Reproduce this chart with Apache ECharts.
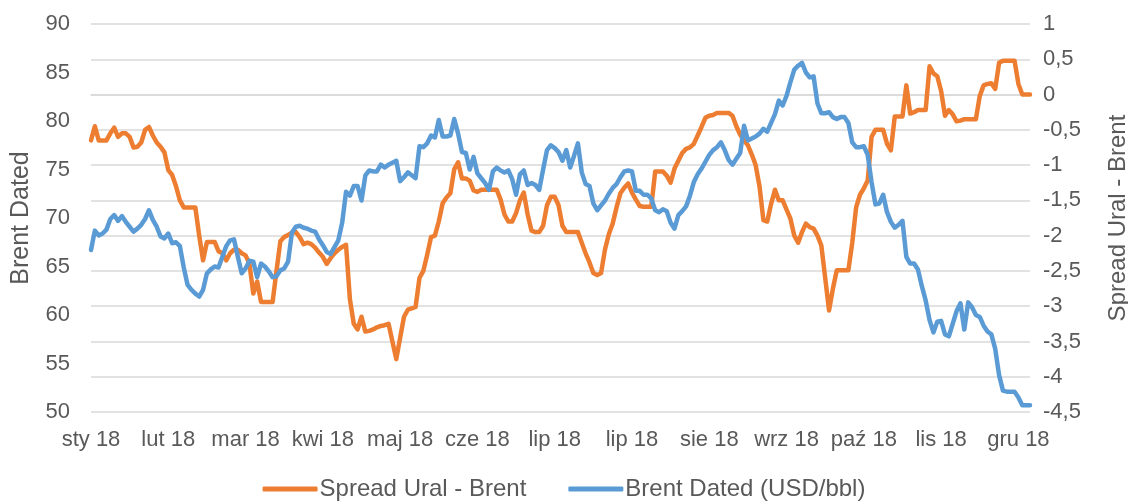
<!DOCTYPE html>
<html>
<head>
<meta charset="utf-8">
<script src="https://cdn.jsdelivr.net/npm/echarts@6/dist/echarts.min.js"></script>
<style>
html,body{margin:0;padding:0;background:#fff;}
#chart{width:1128px;height:502px;}
</style>
</head>
<body>
<div id="chart"></div>
<script>
const tickLabels = ['sty 18','lut 18','mar 18','kwi 18','maj 18','cze 18','lip 18','lip 18','sie 18','wrz 18','paź 18','lis 18','gru 18'];

const spreadUralBrent = [
-0.65,-0.45,-0.65,-0.65,-0.65,-0.55,-0.47,-0.6,-0.55,-0.55,
-0.6,-0.75,-0.74,-0.68,-0.5,-0.46,-0.58,-0.68,-0.74,-0.82,
-1.07,-1.14,-1.3,-1.5,-1.6,-1.6,-1.6,-1.6,-2.0,-2.35,
-2.09,-2.09,-2.09,-2.22,-2.25,-2.35,-2.25,-2.2,-2.2,-2.25,
-2.28,-2.4,-2.82,-2.65,-2.94,-2.94,-2.94,-2.94,-2.5,-2.08,
-2.02,-1.99,-1.96,-1.95,-2.02,-2.12,-2.1,-2.12,-2.17,-2.24,
-2.3,-2.4,-2.32,-2.25,-2.2,-2.16,-2.13,-2.9,-3.25,-3.33,
-3.15,-3.36,-3.35,-3.33,-3.3,-3.28,-3.27,-3.25,-3.5,-3.75,
-3.45,-3.15,-3.05,-3.03,-3.01,-2.6,-2.5,-2.27,-2.02,-2.0,
-1.8,-1.54,-1.46,-1.4,-1.06,-0.96,-1.19,-1.19,-1.22,-1.36,
-1.38,-1.35,-1.35,-1.35,-1.35,-1.35,-1.49,-1.7,-1.8,-1.8,
-1.68,-1.5,-1.39,-1.7,-1.93,-1.95,-1.95,-1.86,-1.57,-1.45,
-1.45,-1.57,-1.86,-1.95,-1.95,-1.95,-1.95,-2.1,-2.25,-2.38,
-2.53,-2.56,-2.53,-2.2,-1.98,-1.83,-1.6,-1.4,-1.32,-1.26,
-1.39,-1.49,-1.58,-1.59,-1.59,-1.59,-1.09,-1.09,-1.09,-1.15,
-1.25,-1.05,-0.94,-0.83,-0.77,-0.75,-0.7,-0.58,-0.46,-0.33,
-0.3,-0.29,-0.26,-0.26,-0.26,-0.26,-0.3,-0.45,-0.57,-0.65,
-0.72,-0.85,-1.0,-1.3,-1.78,-1.8,-1.55,-1.35,-1.5,-1.5,
-1.63,-1.76,-2.0,-2.1,-1.95,-1.83,-1.88,-1.9,-2.0,-2.14,
-2.6,-3.06,-2.75,-2.49,-2.49,-2.49,-2.49,-2.1,-1.6,-1.42,
-1.33,-1.22,-0.6,-0.5,-0.5,-0.5,-0.7,-0.79,-0.31,-0.31,
-0.31,0.13,-0.27,-0.25,-0.22,-0.22,-0.22,0.4,0.3,0.26,
0.05,-0.3,-0.22,-0.28,-0.38,-0.37,-0.35,-0.35,-0.35,-0.35,
-0.02,0.13,0.15,0.16,0.08,0.45,0.48,0.48,0.48,0.48,
0.15,0.0,0.0,0.0
];

const brentDated = [
66.7,68.7,68.2,68.4,68.8,69.9,70.3,69.7,70.2,69.6,
69.1,68.6,68.9,69.3,69.9,70.8,69.8,69.1,68.1,67.9,
68.4,67.4,67.5,67.1,64.9,63.1,62.6,62.2,61.9,62.6,
64.3,64.7,65.0,64.9,66.0,67.1,67.7,67.8,66.0,64.3,
64.8,65.6,65.5,63.9,65.3,65.0,64.5,63.9,64.0,64.6,
64.8,65.5,68.5,69.1,69.2,69.0,68.9,68.7,68.6,67.8,
67.2,66.5,66.3,67.0,67.7,69.5,72.7,72.3,73.3,73.3,
71.8,74.4,74.9,74.8,74.8,75.5,75.2,75.5,75.7,75.9,
73.8,74.2,74.7,74.4,74.1,77.4,77.3,77.7,78.5,78.3,
80.1,78.4,78.4,78.5,80.2,78.7,76.8,76.7,75.0,76.3,
74.6,74.1,73.6,72.9,74.8,75.2,74.9,74.7,74.9,74.0,
72.4,74.5,74.9,73.4,73.6,73.4,72.9,75.0,77.0,77.5,
77.2,76.8,75.9,77.0,75.2,76.4,77.7,74.7,73.5,73.3,
71.5,70.8,71.3,71.8,72.5,73.1,73.5,74.2,74.8,74.9,
74.8,72.8,72.8,72.4,72.4,72.0,70.8,70.6,70.9,70.7,
69.5,68.9,70.3,70.7,71.2,72.3,73.7,74.5,75.1,75.8,
76.5,77.0,77.3,77.8,77.0,76.0,75.5,76.1,76.7,79.5,
78.0,78.2,78.4,78.7,79.2,78.9,79.8,80.7,82.1,81.6,
82.6,84.0,85.3,85.7,86.0,85.0,84.5,84.6,81.8,80.8,
80.8,80.9,80.4,80.2,80.4,80.4,79.8,77.8,77.3,77.3,
77.4,76.5,73.7,71.4,71.5,72.4,70.6,69.6,69.0,69.3,
69.7,66.0,65.3,65.3,64.7,63.0,61.5,59.5,58.2,59.3,
59.4,58.0,57.8,59.1,60.4,61.2,58.5,61.3,60.8,60.0,
59.8,58.9,58.3,58.0,56.5,53.8,52.2,52.1,52.1,52.1,
51.5,50.7,50.7,50.7
];

const categories = brentDated.map((_, i) => i);
const labelEvery = 20;

const textColor = '#595959';
const fontFamily = 'Liberation Sans, Arial, sans-serif';
const chart = echarts.init(document.getElementById('chart'), null, {renderer: 'canvas'});
chart.setOption({
  animation: false,
  backgroundColor: '#ffffff',
  textStyle: {fontFamily: fontFamily, color: textColor},
  grid: {left: 91, right: 98, top: 24, bottom: 90, containLabel: false, outerBoundsMode: 'none'},
  legend: {
    top: 472,
    left: 'center',
    icon: 'roundRect',
    itemWidth: 55,
    itemHeight: 5,
    itemGap: 42,
    itemStyle: {borderWidth: 0},
    textStyle: {fontSize: 24, color: textColor, fontFamily: fontFamily, padding: [0, 0, 0, -3]},
    data: ['Spread Ural - Brent', 'Brent Dated (USD/bbl)']
  },
  xAxis: {
    type: 'category',
    data: categories,
    boundaryGap: false,
    axisLine: {show: true, lineStyle: {color: '#d9d9d9', width: 1.5}},
    axisTick: {show: false},
    axisLabel: {
      interval: labelEvery - 1,
      margin: 17,
      fontSize: 22,
      color: textColor,
      fontFamily: fontFamily,
      formatter: (v, i) => tickLabels[Math.round(i / labelEvery)] || ''
    },
    splitLine: {show: false}
  },
  yAxis: [
    {
      type: 'value',
      position: 'left',
      min: 50, max: 90, interval: 5,
      name: 'Brent Dated',
      nameLocation: 'middle',
      nameGap: 57,
      nameTextStyle: {fontSize: 25, color: textColor, fontFamily: fontFamily},
      axisLine: {show: false},
      axisTick: {show: false},
      splitLine: {show: false},
      axisLabel: {fontSize: 22, color: textColor, margin: 21, fontFamily: fontFamily}
    },
    {
      type: 'value',
      position: 'right',
      min: -4.5, max: 1, interval: 0.5,
      name: 'Spread Ural - Brent',
      nameLocation: 'middle',
      nameGap: 76,
      nameRotate: 90,
      nameTextStyle: {fontSize: 24, color: textColor, fontFamily: fontFamily},
      axisLine: {show: false},
      axisTick: {show: false},
      splitLine: {show: true, lineStyle: {color: '#d9d9d9', width: 1.5}},
      axisLabel: {
        fontSize: 22, color: textColor, margin: 13, fontFamily: fontFamily,
        formatter: v => String(Math.round(v * 10) / 10).replace('.', ',')
      }
    }
  ],
  series: [
    {
      name: 'Spread Ural - Brent',
      type: 'line',
      yAxisIndex: 1,
      data: spreadUralBrent,
      showSymbol: false,
      symbol: 'none',
      lineStyle: {color: '#ED7D31', width: 4.5, join: 'round', cap: 'round'},
      itemStyle: {color: '#ED7D31'}
    },
    {
      name: 'Brent Dated (USD/bbl)',
      type: 'line',
      yAxisIndex: 0,
      data: brentDated,
      showSymbol: false,
      symbol: 'none',
      lineStyle: {color: '#5B9BD5', width: 4.5, join: 'round', cap: 'round'},
      itemStyle: {color: '#5B9BD5'}
    }
  ]
});
</script>
</body>
</html>
